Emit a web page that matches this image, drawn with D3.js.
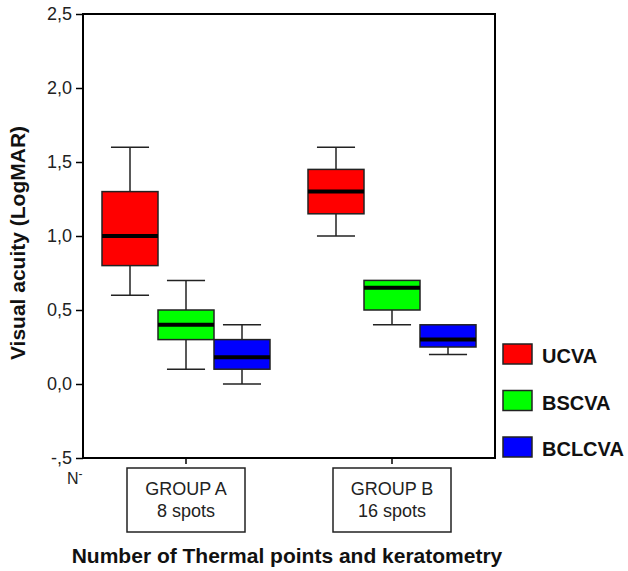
<!DOCTYPE html>
<html>
<head>
<meta charset="utf-8">
<script src="https://cdn.jsdelivr.net/npm/d3@7"></script>
<style>
  body { margin: 0; background: #fff; }
  svg { display: block; font-family: "Liberation Sans", Arial, sans-serif; }
</style>
</head>
<body>
<svg id="chart" width="628" height="571"></svg>
<script>
// Box plots: visual acuity by group and measure

const groups = ['GROUP A', 'GROUP B'];
const groupSub = ['8 spots', '16 spots'];
const series = ['UCVA', 'BSCVA', 'BCLCVA'];
const colors = ['#ff0000', '#00ff00', '#0000ff'];

// [whiskerLow, q1, median, q3, whiskerHigh]
const groupA = [
  [0.6, 0.8, 1.0, 1.3, 1.6],
  [0.1, 0.3, 0.4, 0.5, 0.7],
  [0.0, 0.1, 0.18, 0.3, 0.4]
];
const groupB = [
  [1.0, 1.15, 1.3, 1.45, 1.6],
  [0.4, 0.5, 0.65, 0.7, 0.7],
  [0.2, 0.25, 0.3, 0.4, 0.4]
];
const yTicks = [-0.5, 0, 0.5, 1, 1.5, 2, 2.5];
const yTickLabels = ['-,5', '0,0', '0,5', '1,0', '1,5', '2,0', '2,5'];

const svg = d3.select('#chart');
const plot = { left: 83, right: 495, top: 14, bottom: 458 };

const y = d3.scaleLinear().domain([-0.5, 2.5]).range([plot.bottom, plot.top]);
const x = d3.scalePoint().domain(groups).range([plot.left, plot.right]).padding(0.5);
const xs = d3.scaleBand().domain(series).range([-84, 84]);
const bw = xs.bandwidth();

// frame
svg.append('rect')
  .attr('x', plot.left).attr('y', plot.top)
  .attr('width', plot.right - plot.left).attr('height', plot.bottom - plot.top)
  .attr('fill', 'none').attr('stroke', '#000').attr('stroke-width', 2);

// y axis
const yAxis = d3.axisLeft(y).tickValues(yTicks).tickSize(7).tickPadding(4)
  .tickFormat((d, i) => yTickLabels[i]);
const yg = svg.append('g').attr('transform', `translate(${plot.left},0)`).call(yAxis);
yg.attr('font-size', 18).attr('font-family', '"Liberation Sans", Arial, sans-serif');
yg.select('.domain').remove();
yg.selectAll('line').attr('stroke', '#000').attr('stroke-width', 1.5);
yg.selectAll('text').attr('fill', '#222');

// x ticks (short marks below frame)
svg.selectAll('.xtick').data(groups).enter().append('line')
  .attr('x1', d => x(d)).attr('x2', d => x(d))
  .attr('y1', plot.bottom).attr('y2', plot.bottom + 6)
  .attr('stroke', '#000').attr('stroke-width', 1.5);

// boxes
const data = [];
[groupA, groupB].forEach((g, gi) => {
  g.forEach((v, si) => data.push({ group: groups[gi], s: series[si], c: colors[si], v }));
});

const box = svg.selectAll('.box').data(data).enter().append('g')
  .attr('transform', d => `translate(${x(d.group) + xs(d.s)},0)`);

const capW = bw * 0.68;
box.append('line') // upper whisker
  .attr('x1', bw / 2).attr('x2', bw / 2)
  .attr('y1', d => y(d.v[4])).attr('y2', d => y(d.v[3]))
  .attr('stroke', '#222').attr('stroke-width', 1.5);
box.append('line') // lower whisker
  .attr('x1', bw / 2).attr('x2', bw / 2)
  .attr('y1', d => y(d.v[1])).attr('y2', d => y(d.v[0]))
  .attr('stroke', '#222').attr('stroke-width', 1.5);
box.filter(d => d.v[4] > d.v[3]).append('line')
  .attr('x1', (bw - capW) / 2).attr('x2', (bw + capW) / 2)
  .attr('y1', d => y(d.v[4])).attr('y2', d => y(d.v[4]))
  .attr('stroke', '#222').attr('stroke-width', 1.5);
box.filter(d => d.v[0] < d.v[1]).append('line')
  .attr('x1', (bw - capW) / 2).attr('x2', (bw + capW) / 2)
  .attr('y1', d => y(d.v[0])).attr('y2', d => y(d.v[0]))
  .attr('stroke', '#222').attr('stroke-width', 1.5);
box.append('rect')
  .attr('x', 0).attr('width', bw)
  .attr('y', d => y(d.v[3])).attr('height', d => y(d.v[1]) - y(d.v[3]))
  .attr('fill', d => d.c).attr('stroke', '#222').attr('stroke-width', 1.5);
box.append('line') // median
  .attr('x1', 0).attr('x2', bw)
  .attr('y1', d => y(d.v[2])).attr('y2', d => y(d.v[2]))
  .attr('stroke', '#000').attr('stroke-width', 4);

// group label boxes
const gl = svg.selectAll('.glabel').data(groups).enter().append('g')
  .attr('transform', d => `translate(${x(d)},0)`);
gl.append('rect')
  .attr('x', -59).attr('y', 468).attr('width', 118).attr('height', 64)
  .attr('fill', '#fff').attr('stroke', '#222').attr('stroke-width', 1.5);
gl.append('text').attr('y', 495).attr('text-anchor', 'middle')
  .attr('font-size', 18).attr('fill', '#222').text(d => d);
gl.append('text').attr('y', 517).attr('text-anchor', 'middle')
  .attr('font-size', 18).attr('fill', '#222').text((d, i) => groupSub[i]);

// N- marker
const nt = svg.append('text').attr('x', 67).attr('y', 484)
  .attr('font-size', 16).attr('fill', '#222');
nt.append('tspan').text('N');
nt.append('tspan').attr('dy', -6).attr('font-size', 12).text('-');

// legend
const lg = svg.selectAll('.leg').data(series).enter().append('g')
  .attr('transform', (d, i) => `translate(503,${344 + i * 46.5})`);
lg.append('rect').attr('width', 29).attr('height', 20)
  .attr('fill', (d, i) => colors[i]).attr('stroke', '#222').attr('stroke-width', 1.5);
lg.append('text').attr('x', 39).attr('y', 19)
  .attr('font-size', 20).attr('font-weight', 'bold').attr('fill', '#111').text(d => d);

// axis titles
svg.append('text').attr('x', 287).attr('y', 563).attr('text-anchor', 'middle')
  .attr('font-size', 21).attr('font-weight', 'bold').attr('fill', '#111')
  .text('Number of Thermal points and keratometry');
svg.append('text')
  .attr('transform', 'translate(25,243) rotate(-90)')
  .attr('text-anchor', 'middle')
  .attr('font-size', 21).attr('font-weight', 'bold').attr('fill', '#111')
  .text('Visual acuity (LogMAR)');
</script>
</body>
</html>
